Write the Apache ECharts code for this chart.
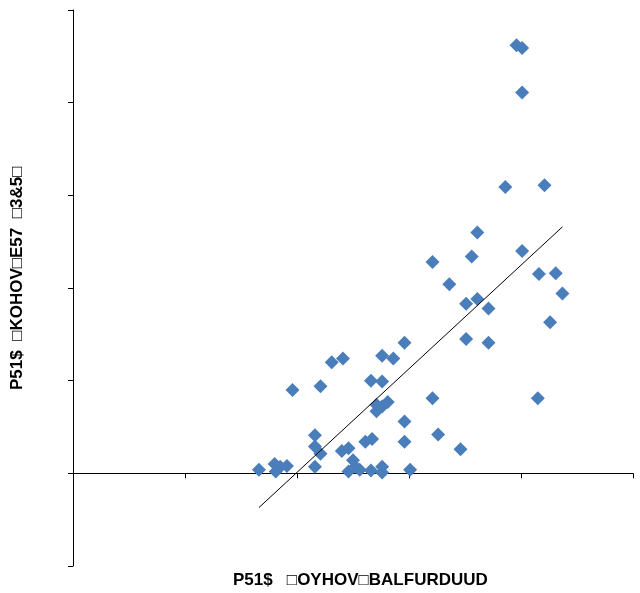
<!DOCTYPE html>
<html>
<head>
<meta charset="utf-8">
<script src="https://cdn.jsdelivr.net/npm/echarts@6/dist/echarts.min.js"></script>
<style>html,body{margin:0;padding:0;background:#fff;}#c{width:640px;height:593px;}</style>
</head>
<body>
<div id="c"></div>
<script>
var xValues = [1.66,1.80,1.81,1.85,1.91,1.96,2.16,2.16,2.16,2.21,2.21,2.31,2.41,2.40,2.46,2.50,2.46,2.52,2.56,2.61,2.67,2.66,2.76,2.76,3.01,2.66,2.76,2.71,2.71,2.76,2.81,2.76,2.86,2.96,2.96,2.96,3.21,3.26,3.46,3.21,3.36,3.51,3.61,3.51,3.56,3.61,3.71,3.71,3.86,4.21,4.01,4.16,4.31,4.37,4.26,4.15,3.96,4.01,4.01];
var yValues = [0.04,0.10,0.02,0.07,0.08,0.90,0.07,0.41,0.29,0.21,0.94,1.20,1.24,0.24,0.27,0.14,0.02,0.07,0.04,0.34,0.37,0.03,0.07,0.01,0.04,1.00,0.99,0.74,0.67,0.72,0.77,1.27,1.24,1.41,0.56,0.34,0.81,0.42,0.26,2.28,2.04,1.83,1.88,1.45,2.34,2.60,1.78,1.41,3.09,3.11,2.40,2.15,2.16,1.94,1.63,0.81,4.62,4.59,4.11];
var trendX = [1.66, 4.37];
var trendY = [-0.37, 2.66];
var xTitle = "P51$   \u25A1OYHOV\u25A1BALFURDUUD";
var yTitle = "P51$  \u25A1KOHOV\u25A1E57  \u25A13&5\u25A1";

var pts = xValues.map(function(x, i){ return [x, yValues[i]]; });
var trend = trendX.map(function(x, i){ return [x, trendY[i]]; });

var chart = echarts.init(document.getElementById('c'), null, {renderer:'canvas'});
chart.setOption({
  animation:false,
  backgroundColor:'#fff',
  grid:{left:73, right:7, top:10, bottom:27},
  xAxis:{type:'value', min:0, max:5, interval:1,
    axisLine:{show:true, onZero:true, lineStyle:{color:'#000', width:1}},
    axisTick:{show:true, length:5, lineStyle:{color:'#000'}},
    axisLabel:{show:false}, splitLine:{show:false}},
  yAxis:{type:'value', min:-1, max:5, interval:1,
    axisLine:{show:true, onZero:false, lineStyle:{color:'#000', width:1}},
    axisTick:{show:true, length:5, lineStyle:{color:'#000'}},
    axisLabel:{show:false}, splitLine:{show:false}},
  series:[
    {type:'scatter', data:pts, symbol:'diamond', symbolSize:14,
     itemStyle:{color:'#4a7ebb', opacity:1}, z:2},
    {type:'line', data:trend, symbol:'none', lineStyle:{color:'#000', width:1}, z:3}
  ],
  graphic:[
    {type:'text', x:233, y:572, style:{text:xTitle, font:'bold 17px "Liberation Sans", Arial, sans-serif', fill:'#000', textVerticalAlign:'top'}},
    {type:'text', rotation:Math.PI/2, x:9, y:390, style:{text:yTitle, font:'bold 17px "Liberation Sans", Arial, sans-serif', fill:'#000', textVerticalAlign:'top'}}
  ]
});
</script>
</body>
</html>
